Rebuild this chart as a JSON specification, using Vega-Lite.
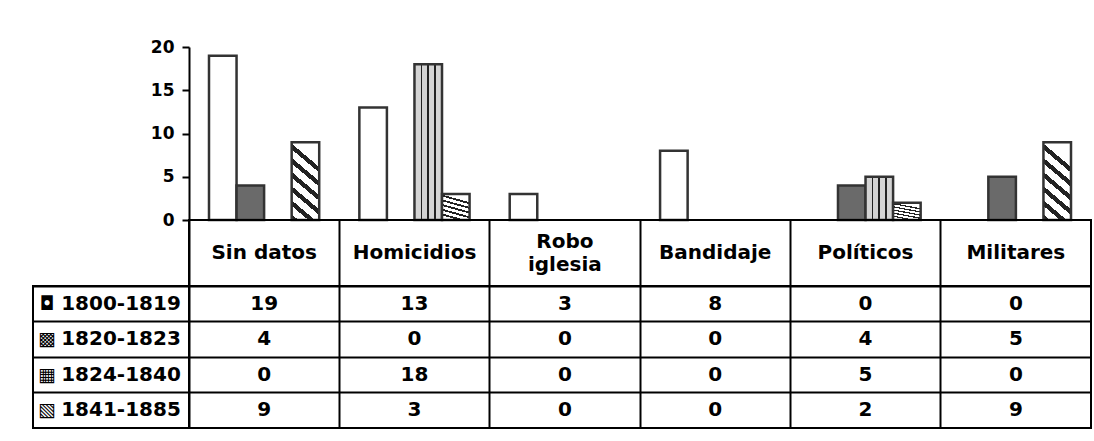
{
  "$schema": "https://vega.github.io/schema/vega-lite/v6.json",
  "autosize": {"type": "pad"},
  "padding": {"left": 32, "top": 38, "right": 4, "bottom": 4},
  "background": "white",
  "data": {"values": [
    {"cat": "Sin datos", "serie": "1800-1819", "value": 19},
    {"cat": "Sin datos", "serie": "1820-1823", "value": 4},
    {"cat": "Sin datos", "serie": "1824-1840", "value": 0},
    {"cat": "Sin datos", "serie": "1841-1885", "value": 9},
    {"cat": "Homicidios", "serie": "1800-1819", "value": 13},
    {"cat": "Homicidios", "serie": "1820-1823", "value": 0},
    {"cat": "Homicidios", "serie": "1824-1840", "value": 18},
    {"cat": "Homicidios", "serie": "1841-1885", "value": 3},
    {"cat": "Robo iglesia", "serie": "1800-1819", "value": 3},
    {"cat": "Robo iglesia", "serie": "1820-1823", "value": 0},
    {"cat": "Robo iglesia", "serie": "1824-1840", "value": 0},
    {"cat": "Robo iglesia", "serie": "1841-1885", "value": 0},
    {"cat": "Bandidaje", "serie": "1800-1819", "value": 8},
    {"cat": "Bandidaje", "serie": "1820-1823", "value": 0},
    {"cat": "Bandidaje", "serie": "1824-1840", "value": 0},
    {"cat": "Bandidaje", "serie": "1841-1885", "value": 0},
    {"cat": "Políticos", "serie": "1800-1819", "value": 0},
    {"cat": "Políticos", "serie": "1820-1823", "value": 4},
    {"cat": "Políticos", "serie": "1824-1840", "value": 5},
    {"cat": "Políticos", "serie": "1841-1885", "value": 2},
    {"cat": "Militares", "serie": "1800-1819", "value": 0},
    {"cat": "Militares", "serie": "1820-1823", "value": 5},
    {"cat": "Militares", "serie": "1824-1840", "value": 0},
    {"cat": "Militares", "serie": "1841-1885", "value": 9}
  ]},
  "columns": 2,
  "spacing": 0,
  "bounds": "flush",
  "concat": [
    {
      "width": 156, "height": 173,
      "view": {"stroke": null},
      "data": {"values": []},
      "mark": {"type": "text"},
      "encoding": {}
    },
    {
      "width": 902, "height": 173,
      "view": {"stroke": null},
      "transform": [{"filter": "datum.value > 0"}],
      "mark": {"type": "bar", "stroke": "#333333", "strokeWidth": 2.5},
      "encoding": {
        "x": {"field": "cat", "type": "nominal",
          "scale": {"domain": ["Sin datos", "Homicidios", "Robo iglesia", "Bandidaje", "Políticos", "Militares"], "paddingInner": 0.267, "paddingOuter": 0.133},
          "axis": null},
        "xOffset": {"field": "serie", "type": "nominal",
          "scale": {"domain": ["1800-1819", "1820-1823", "1824-1840", "1841-1885"], "paddingInner": 0, "paddingOuter": 0}},
        "y": {"field": "value", "type": "quantitative",
          "scale": {"domain": [0, 20], "nice": false},
          "axis": {"values": [0, 5, 10, 15, 20], "title": null, "grid": false,
            "domainColor": "black", "domainWidth": 2, "tickColor": "black", "tickWidth": 2, "tickSize": 7,
            "labelPadding": 8, "labelFont": "DejaVu Sans", "labelFontWeight": "bold", "labelFontSize": 17, "labelColor": "black"}},
        "fill": {
          "condition": [
            {"test": "datum.serie === '1820-1823'", "value": "#6a6a6a"},
            {"test": "datum.serie === '1824-1840'", "value": {"gradient": "linear", "x1": 0, "y1": 0, "x2": 1, "y2": 0, "stops": [
              {"offset": 0, "color": "#d4d4d4"}, {"offset": 0.22, "color": "#d4d4d4"}, {"offset": 0.22, "color": "#222222"}, {"offset": 0.28, "color": "#222222"},
              {"offset": 0.28, "color": "#d4d4d4"}, {"offset": 0.47, "color": "#d4d4d4"}, {"offset": 0.47, "color": "#222222"}, {"offset": 0.53, "color": "#222222"},
              {"offset": 0.53, "color": "#d4d4d4"}, {"offset": 0.72, "color": "#d4d4d4"}, {"offset": 0.72, "color": "#222222"}, {"offset": 0.78, "color": "#222222"},
              {"offset": 0.78, "color": "#d4d4d4"}, {"offset": 1, "color": "#d4d4d4"}]}},
            {"test": "datum.serie === '1841-1885'", "value": {"gradient": "linear", "x1": 0.3, "y1": 0, "x2": 0, "y2": 1, "stops": [
              {"offset": 0, "color": "white"}, {"offset": 0.1, "color": "white"}, {"offset": 0.1, "color": "#222222"}, {"offset": 0.1667, "color": "#222222"},
              {"offset": 0.1667, "color": "white"}, {"offset": 0.2667, "color": "white"}, {"offset": 0.2667, "color": "#222222"}, {"offset": 0.3333, "color": "#222222"},
              {"offset": 0.3333, "color": "white"}, {"offset": 0.4333, "color": "white"}, {"offset": 0.4333, "color": "#222222"}, {"offset": 0.5, "color": "#222222"},
              {"offset": 0.5, "color": "white"}, {"offset": 0.6, "color": "white"}, {"offset": 0.6, "color": "#222222"}, {"offset": 0.6667, "color": "#222222"},
              {"offset": 0.6667, "color": "white"}, {"offset": 0.7667, "color": "white"}, {"offset": 0.7667, "color": "#222222"}, {"offset": 0.8333, "color": "#222222"},
              {"offset": 0.8333, "color": "white"}, {"offset": 0.9333, "color": "white"}, {"offset": 0.9333, "color": "#222222"}, {"offset": 1, "color": "#222222"}]}}
          ],
          "value": "white"
        }
      }
    },
    {
      "width": 156, "height": 66,
      "view": {"stroke": null},
      "data": {"values": []},
      "mark": {"type": "text"},
      "encoding": {}
    },
    {
      "width": 902, "height": 66,
      "transform": [{"filter": "datum.serie === '1800-1819'"}],
      "encoding": {
        "x": {"field": "cat", "type": "nominal",
          "scale": {"type": "band", "domain": ["Sin datos", "Homicidios", "Robo iglesia", "Bandidaje", "Políticos", "Militares"], "padding": 0},
          "axis": {"grid": true, "bandPosition": 0, "gridColor": "black", "gridWidth": 2, "gridOpacity": 1, "labels": false, "ticks": false, "domain": false, "title": null}}
      },
      "layer": [
        {
          "transform": [{"filter": "datum.cat !== 'Robo iglesia'"}],
          "mark": {"type": "text"},
          "encoding": {"text": {"field": "cat"}}
        },
        {
          "transform": [{"filter": "datum.cat === 'Robo iglesia'"}],
          "mark": {"type": "text", "lineHeight": 23, "dy": -11},
          "encoding": {"text": {"value": ["Robo", "iglesia"]}}
        }
      ]
    },
    {
      "width": 156, "height": 142,
      "transform": [{"filter": "datum.cat === 'Sin datos'"}],
      "encoding": {
        "y": {"field": "serie", "type": "nominal",
          "scale": {"type": "band", "domain": ["1800-1819", "1820-1823", "1824-1840", "1841-1885"], "padding": 0},
          "axis": {"grid": true, "bandPosition": 0, "gridColor": "black", "gridWidth": 2, "gridOpacity": 1, "labels": false, "ticks": false, "domain": false, "title": null}}
      },
      "layer": [
        {
          "mark": {"type": "text", "fontSize": 19, "dx": -64, "fontWeight": "normal", "font": "DejaVu Sans"},
          "encoding": {
            "text": {"condition": [
              {"test": "datum.serie === '1800-1819'", "value": "◘"},
              {"test": "datum.serie === '1820-1823'", "value": "▩"},
              {"test": "datum.serie === '1824-1840'", "value": "▦"}
            ], "value": "▧"}
          }
        },
        {
          "mark": {"type": "text", "dx": 10},
          "encoding": {"text": {"field": "serie"}}
        }
      ]
    },
    {
      "width": 902, "height": 142,
      "mark": {"type": "text"},
      "encoding": {
        "x": {"field": "cat", "type": "nominal",
          "scale": {"type": "band", "domain": ["Sin datos", "Homicidios", "Robo iglesia", "Bandidaje", "Políticos", "Militares"], "padding": 0},
          "axis": {"grid": true, "bandPosition": 0, "gridColor": "black", "gridWidth": 2, "gridOpacity": 1, "labels": false, "ticks": false, "domain": false, "title": null}},
        "y": {"field": "serie", "type": "nominal",
          "scale": {"type": "band", "domain": ["1800-1819", "1820-1823", "1824-1840", "1841-1885"], "padding": 0},
          "axis": {"grid": true, "bandPosition": 0, "gridColor": "black", "gridWidth": 2, "gridOpacity": 1, "labels": false, "ticks": false, "domain": false, "title": null}},
        "text": {"field": "value", "type": "quantitative"}
      }
    }
  ],
  "config": {
    "view": {"stroke": "black", "strokeWidth": 2},
    "text": {"font": "DejaVu Sans", "fontWeight": "bold", "fontSize": 20, "color": "black"}
  }
}
